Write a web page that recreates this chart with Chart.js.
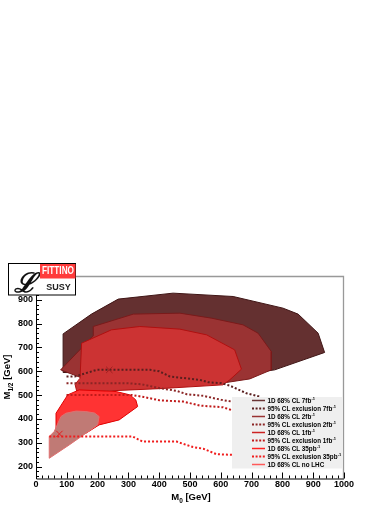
<!DOCTYPE html>
<html>
<head>
<meta charset="utf-8">
<script src="https://cdn.jsdelivr.net/npm/chart.js@4.4.0/dist/chart.umd.min.js"></script>
<style>
  body { margin: 0; background: #fff; }
  canvas { display: block; }
</style>
</head>
<body>
<canvas id="c" width="392" height="508"></canvas>
<script>
// Ejes (GeV)
const xTicks = [0, 100, 200, 300, 400, 500, 600, 700, 800, 900, 1000];
const yTicks = [200, 300, 400, 500, 600, 700, 800, 900];

// Contornos 1D 68% CL  [M0, M1/2]
const cl68_7fb = [[88,595],[88,757],[180,840],[267,903],[445,928],[640,914],[802,865],[851,840],[916,760],[937,679],[775,606],[700,592],[300,590]];
const cl68_2fb = [[80,606],[186,749],[186,788],[316,840],[467,844],[570,823],[672,795],[721,760],[764,683],[764,606],[694,568],[618,553],[400,530],[250,522],[143,575]];
const cl68_1fb = [[143,571],[148,718],[245,774],[337,788],[467,777],[554,753],[645,690],[667,609],[629,564],[607,543],[400,527],[240,518],[132,517],[127,545]];
const cl68_35pb = [[65,333],[65,424],[103,501],[140,522],[260,515],[305,501],[324,480],[330,452],[270,396],[205,375],[162,340],[100,320]];
const cl68_noLHC = [[43,235],[43,326],[59,347],[81,410],[97,424],[130,433],[162,431],[190,425],[205,410],[200,375],[162,340],[108,291]];

// Exclusión 95% CL
const ex95_7fb = [[99,578],[126,578],[197,606],[370,606],[400,600],[435,578],[532,564],[559,554],[602,550],[629,540],[683,508],[730,492]];
const ex95_2fb = [[99,550],[300,550],[345,545],[402,529],[456,518],[489,504],[543,497],[602,480],[650,470],[720,460]];
const ex95_1fb = [[99,501],[310,501],[350,492],[402,478],[478,473],[532,456],[607,449],[640,435],[720,430]];
const ex95_35pb = [[43,326],[314,326],[346,305],[456,305],[510,282],[543,275],[586,252],[640,249],[700,249]];

// Mejores puntos
const bestFit = [[238,606]];
const bestFitNoLHC = [[76,337]];

// Leyenda
const legendNames = ['1D 68% CL ', '95% CL exclusion ', '1D 68% CL ', '95% CL exclusion ', '1D 68% CL ', '95% CL exclusion ', '1D 68% CL ', '95% CL exclusion ', '1D 68% CL no LHC'];
const legendLumi = ['7fb', '7fb', '2fb', '2fb', '1fb', '1fb', '35pb', '35pb', ''];
const legendColors = ['#6a3535', '#5a1f1f', '#993333', '#8b2525', '#cc2222', '#c01a1a', '#ff2020', '#f01c1c', '#ff5a5a'];
const legendDashed = [false, true, false, true, false, true, false, true, false];

const pts = a => a.map(p => ({x: p[0], y: p[1]}));
const poly = a => pts(a.concat([a[0]]));

function area(data, bg, border, order) {
  return { data: poly(data), showLine: true, fill: 'shape', backgroundColor: bg, borderColor: border,
           borderWidth: 1, pointRadius: 0, tension: 0, order: order };
}
function dashed(data, color, order) {
  return { data: pts(data), showLine: true, fill: false, borderColor: color, borderWidth: 2,
           borderDash: [2, 2], pointRadius: 0, tension: 0, order: order };
}
function marker(data, color) {
  return { data: pts(data), showLine: false, pointStyle: 'crossRot', pointRadius: 4.5,
           borderColor: color, borderWidth: 1, order: 0 };
}

const font = 'Liberation Sans, Arial, sans-serif';

const decor = {
  id: 'decor',
  afterDatasetsDraw(chart) {
    const {ctx, chartArea: a, scales: {x, y}} = chart;
    ctx.save();
    // marco
    ctx.strokeStyle = '#999'; ctx.lineWidth = 1.3;
    ctx.beginPath();
    ctx.moveTo(a.left, a.top + 0.5); ctx.lineTo(a.right - 0.5, a.top + 0.5); ctx.lineTo(a.right - 0.5, a.bottom);
    ctx.stroke();
    ctx.strokeStyle = '#000'; ctx.lineWidth = 1;
    ctx.beginPath();
    ctx.moveTo(a.left + 0.5, a.top); ctx.lineTo(a.left + 0.5, a.bottom + 0.5); ctx.lineTo(a.right, a.bottom + 0.5);
    ctx.stroke();
    // marcas
    ctx.beginPath();
    for (let v = 0; v <= 1000; v += 20) {
      const px = Math.round(x.getPixelForValue(v)) + 0.5;
      ctx.moveTo(px, a.bottom); ctx.lineTo(px, a.bottom - (v % 100 === 0 ? 6 : 3));
    }
    for (let v = 160; v <= 1000; v += 20) {
      const py = Math.round(y.getPixelForValue(v)) + 0.5;
      ctx.moveTo(a.left, py); ctx.lineTo(a.left + (v % 100 === 0 ? 6 : 3), py);
    }
    ctx.stroke();

    // leyenda
    ctx.fillStyle = '#efefef';
    ctx.fillRect(232, 397, 110, 71.5);
    legendNames.forEach((name, i) => {
      const ly = 400.5 + i * 8;
      ctx.strokeStyle = legendColors[i];
      ctx.lineWidth = legendDashed[i] ? 2 : 1.5;
      ctx.setLineDash(legendDashed[i] ? [2, 1.6] : []);
      ctx.beginPath(); ctx.moveTo(252, ly); ctx.lineTo(265, ly); ctx.stroke();
      ctx.setLineDash([]);
      ctx.fillStyle = '#000';
      ctx.font = 'bold 6.3px ' + font;
      ctx.textBaseline = 'middle'; ctx.textAlign = 'left';
      const txt = name + legendLumi[i];
      ctx.fillText(txt, 267.5, ly + 0.5);
      if (legendLumi[i]) {
        const w = ctx.measureText(txt).width;
        ctx.font = 'bold 4px ' + font;
        ctx.fillText('-1', 267.5 + w + 0.3, ly - 2);
      }
    });

    // títulos de ejes
    ctx.fillStyle = '#000';
    ctx.textBaseline = 'alphabetic'; ctx.textAlign = 'left';
    ctx.font = 'bold 9.5px ' + font;
    let w1 = ctx.measureText('M').width;
    ctx.font = 'bold 6.5px ' + font;
    let w2 = ctx.measureText('0').width;
    ctx.font = 'bold 9.5px ' + font;
    let w3 = ctx.measureText(' [GeV]').width;
    let sx = 191 - (w1 + w2 + w3) / 2;
    ctx.fillText('M', sx, 500);
    ctx.font = 'bold 6.5px ' + font; ctx.fillText('0', sx + w1, 503);
    ctx.font = 'bold 9.5px ' + font; ctx.fillText(' [GeV]', sx + w1 + w2, 500);

    ctx.save();
    ctx.translate(10, 377); ctx.rotate(-Math.PI / 2);
    ctx.font = 'bold 9.5px ' + font;
    w1 = ctx.measureText('M').width;
    ctx.font = 'bold 6.5px ' + font;
    w2 = ctx.measureText('1/2').width;
    ctx.font = 'bold 9.5px ' + font;
    w3 = ctx.measureText(' [GeV]').width;
    sx = -(w1 + w2 + w3) / 2;
    ctx.fillText('M', sx, 0);
    ctx.font = 'bold 6.5px ' + font; ctx.fillText('1/2', sx + w1, 3);
    ctx.font = 'bold 9.5px ' + font; ctx.fillText(' [GeV]', sx + w1 + w2, 0);
    ctx.restore();

    // logo
    ctx.fillStyle = '#fff'; ctx.fillRect(8, 263, 68, 32);
    ctx.strokeStyle = '#000'; ctx.lineWidth = 1;
    ctx.strokeRect(8.5, 263.5, 67, 31.5);
    ctx.fillStyle = '#ff3b3b'; ctx.fillRect(40, 264, 35.5, 14.5);
    ctx.fillStyle = '#fff';
    ctx.font = 'bold 10px ' + font;
    ctx.textAlign = 'center'; ctx.textBaseline = 'middle';
    const fw = ctx.measureText('FITTINO').width;
    ctx.save(); ctx.translate(58, 271.5); ctx.scale(32 / fw, 1);
    ctx.fillText('FITTINO', 0, 0);
    ctx.restore();
    ctx.fillStyle = '#222';
    ctx.font = 'bold 9px ' + font;
    ctx.fillText('SUSY', 58.5, 288);
    ctx.save();
    ctx.beginPath(); ctx.rect(9, 264, 31, 30); ctx.clip();
    ctx.font = 'italic bold 27px "DejaVu Serif", serif';
    ctx.fillStyle = '#111';
    ctx.textBaseline = 'alphabetic';
    ctx.fillText('\u2112', 25, 292);
    ctx.restore();
    ctx.restore();
  }
};

new Chart(document.getElementById('c'), {
  type: 'scatter',
  data: {
    datasets: [
      area(cl68_7fb, '#643030', '#3f1515', 10),
      area(cl68_2fb, '#9a3333', '#7a1a1a', 9),
      area(cl68_1fb, '#cc3333', '#b01010', 8),
      area(cl68_35pb, '#ff3333', '#e00000', 7),
      area(cl68_noLHC, '#c07a75', '#e07070', 6),
      dashed(ex95_7fb, '#5a1f1f', 4),
      dashed(ex95_2fb, '#8b2525', 3),
      dashed(ex95_1fb, '#c01a1a', 2),
      dashed(ex95_35pb, '#f01c1c', 1),
      marker(bestFit, '#a02020'),
      marker(bestFitNoLHC, '#e02020')
    ]
  },
  options: {
    responsive: false,
    animation: false,
    devicePixelRatio: 1,
    layout: { padding: { top: 276, right: 48, left: 0, bottom: 0 } },
    plugins: { legend: { display: false }, tooltip: { enabled: false } },
    scales: {
      x: {
        type: 'linear', min: 0, max: 1000,
        afterBuildTicks: s => { s.ticks = xTicks.map(v => ({value: v})); },
        afterFit: s => { s.height = 29.5; },
        grid: { display: false, drawTicks: false },
        border: { display: false },
        ticks: { color: '#000', padding: 1, maxRotation: 0, autoSkip: false, callback: v => String(v),
                 font: { family: font, size: 9, weight: 'bold' } }
      },
      y: {
        type: 'linear', min: 150, max: 1000,
        afterBuildTicks: s => { s.ticks = yTicks.map(v => ({value: v})); },
        afterFit: s => { s.width = 36; },
        grid: { display: false, drawTicks: false },
        border: { display: false },
        ticks: { color: '#000', padding: 3, autoSkip: false, callback: v => String(v),
                 font: { family: font, size: 9, weight: 'bold' } }
      }
    }
  },
  plugins: [decor]
});
</script>
</body>
</html>
